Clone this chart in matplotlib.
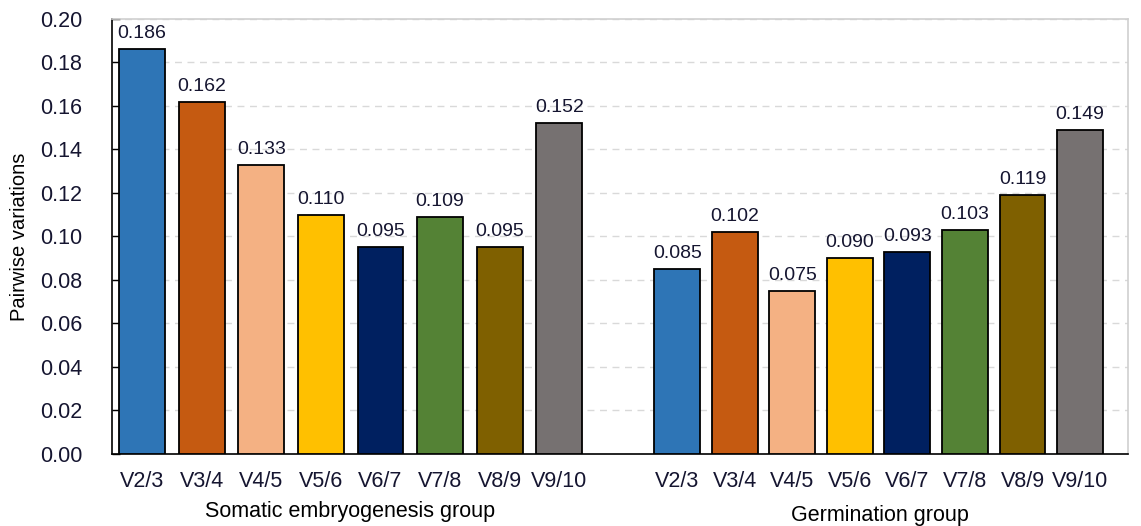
import matplotlib.pyplot as plt

plt.rcParams['font.family'] = ['Liberation Sans', 'DejaVu Sans']

pairs = ['V2/3', 'V3/4', 'V4/5', 'V5/6', 'V6/7', 'V7/8', 'V8/9', 'V9/10']
somatic = [0.186, 0.162, 0.133, 0.110, 0.095, 0.109, 0.095, 0.152]
germination = [0.085, 0.102, 0.075, 0.090, 0.093, 0.103, 0.119, 0.149]
colors = ['#2E75B6', '#C55A11', '#F4B183', '#FFC000', '#002060',
          '#548235', '#7F6000', '#767171']
groups = ['Somatic embryogenesis group', 'Germination group']

txt = '#151530'

fig = plt.figure(figsize=(11.41, 5.26), dpi=100)
ax = fig.add_axes([0.0982, 0.137, 0.8904, 0.827])

# second group is packed a little tighter than the first
x1 = [i for i in range(len(pairs))]
x2 = [8.98 + 0.965 * i for i in range(len(pairs))]

for xs, vals in [(x1, somatic), (x2, germination)]:
    bars = ax.bar(xs, vals, width=0.77, color=colors, edgecolor='black',
                  linewidth=1.3, zorder=3)
    for b, v in zip(bars, vals):
        ax.annotate('%.3f' % v, (b.get_x() + b.get_width() / 2, v),
                    xytext=(0, 5), textcoords='offset points',
                    ha='center', va='bottom', fontsize=14, color=txt)

ax.set_xlim(-0.503, 16.54)
ax.set_ylim(0, 0.20)
ax.set_yticks([i * 0.02 for i in range(11)])
ax.set_yticklabels(['%.2f' % (i * 0.02) for i in range(11)])
ax.set_xticks(x1 + x2)
ax.set_xticklabels(pairs + pairs)

ax.tick_params(axis='x', length=0, pad=12, labelsize=15.5, labelcolor=txt)
ax.tick_params(axis='y', direction='in', length=6, width=1, pad=52,
               labelsize=15.5, labelcolor=txt)
for lab in ax.get_yticklabels():
    lab.set_horizontalalignment('left')

ax.grid(axis='y', color='#d9d9d9', linestyle=(0, (5, 4)), linewidth=1, zorder=0)
ax.spines['left'].set_color('black')
ax.spines['bottom'].set_color('black')
ax.spines['top'].set_color('#d0d0d0')
ax.spines['right'].set_color('#d0d0d0')
for s in ax.spines.values():
    s.set_linewidth(1.2)

ax.set_ylabel('Pairwise variations', fontsize=14.5, color='black')
ax.yaxis.set_label_coords(-0.082, 0.5)

fig.text(350 / 1141, 1 - 512 / 526, groups[0], ha='center', va='center',
         fontsize=15.5, color='black')
fig.text(880 / 1141, 1 - 515 / 526, groups[1], ha='center', va='center',
         fontsize=15.5, color='black')

fig.savefig('out.png', dpi=100)
